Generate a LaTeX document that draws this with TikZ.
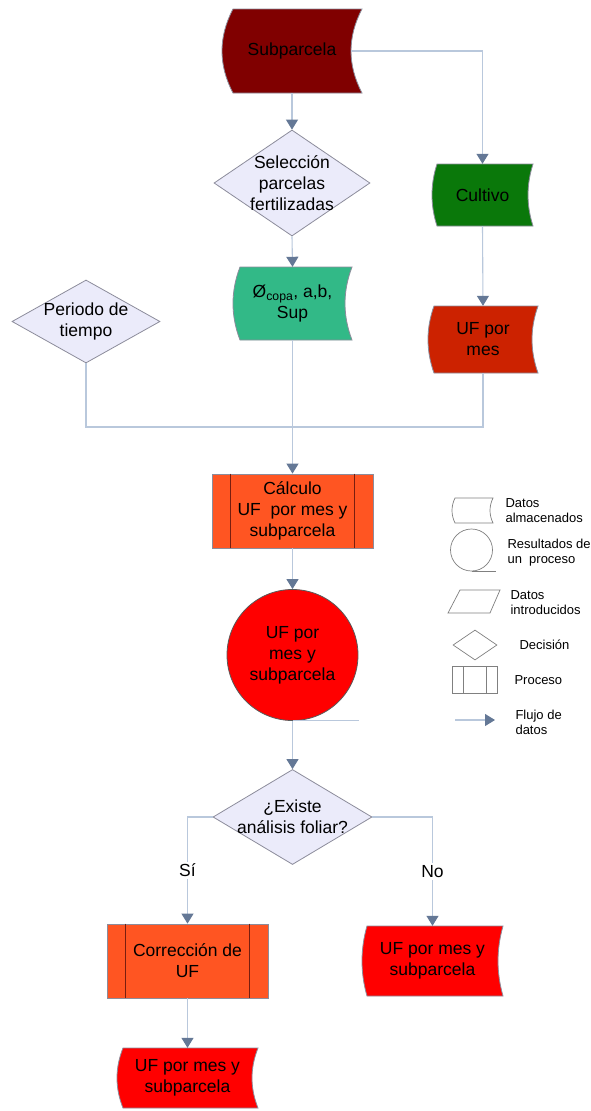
\documentclass[tikz,border=0pt]{standalone}
\usepackage{fontspec}
\setmainfont{Liberation Sans}
\usetikzlibrary{arrows.meta,shapes.geometric}

\definecolor{linec}{RGB}{185,200,220}
\definecolor{tipc}{RGB}{100,120,150}
\definecolor{shapeline}{RGB}{140,140,155}
\definecolor{decfill}{RGB}{235,235,250}
\definecolor{subfill}{RGB}{128,0,0}
\definecolor{datafill}{RGB}{50,185,135}
\definecolor{cultfill}{RGB}{10,120,10}
\definecolor{ufmfill}{RGB}{204,34,0}
\definecolor{procfill}{RGB}{255,85,34}
\definecolor{procin}{RGB}{120,30,15}
\definecolor{resfill}{RGB}{255,0,0}

% stored-data outline: convex left side, concave right side
% #1 cx, #2 cy, #3 width, #4 height, #5 bulge, #6 path options
\newcommand\storedpath[6]{%
  \path[#6] (#1-#3/2+#5,#2-#4/2) -- (#1+#3/2,#2-#4/2)
    .. controls (#1+#3/2-4*#5/3,#2-#4/6) and (#1+#3/2-4*#5/3,#2+#4/6) .. (#1+#3/2,#2+#4/2)
    -- (#1-#3/2+#5,#2+#4/2)
    .. controls (#1-#3/2-#5/3,#2+#4/6) and (#1-#3/2-#5/3,#2-#4/6) .. (#1-#3/2+#5,#2-#4/2)
    -- cycle;}

\tikzset{
  flow/.style={draw=linec, line width=1.1pt},
  arr/.style={flow, -{Triangle[width=12pt,length=10pt,color=tipc,fill=tipc]}},
  txt/.style={font=\fontsize{17.5}{21}\selectfont, align=center, text=black},
  legtxt/.style={font=\fontsize{13}{15}\selectfont, align=left, anchor=west, text=black},
  decision/.style={diamond, draw=shapeline, fill=decfill, line width=0.8pt, inner sep=0pt},
  storedbg/.style={draw=shapeline, line width=0.8pt},
  datatext/.style={txt, inner sep=0pt},
  process/.style={rectangle, draw=shapeline, fill=procfill, line width=0.8pt, txt, inner sep=0pt},
  procline/.style={draw=procin, line width=1pt},
  result/.style={circle, draw=black!65, fill=resfill, line width=0.8pt, txt, inner sep=0pt},
  legline/.style={draw=black!50, line width=0.7pt},
}

\begin{document}
\begin{tikzpicture}[x=1pt,y=-1pt]
\useasboundingbox (0,0) rectangle (590,1111);
\fill[white] (0,0) rectangle (590,1111);

% ---- stored-data shapes
\storedpath{292}{51}{140}{84}{11}{storedbg, fill=subfill}
\node[datatext, minimum width=140pt, minimum height=84pt] (sub) at (292,51) {Subparcela};

\storedpath{292.5}{303.5}{119}{73}{7}{storedbg, fill=datafill}
\node[datatext, minimum width=119pt, minimum height=73pt] (dat) at (292.5,303.5) {Ø\textsubscript{copa}, a,b,\\Sup};

\storedpath{482.5}{195}{101}{62}{5}{storedbg, fill=cultfill}
\node[datatext, minimum width=101pt, minimum height=62pt] (cul) at (482.5,195) {Cultivo};

\storedpath{483}{339.5}{110}{67}{6}{storedbg, fill=ufmfill}
\node[datatext, minimum width=110pt, minimum height=67pt] (ufm) at (483,339.5) {UF por\\mes};

\storedpath{432.5}{961}{141}{70}{5}{storedbg, fill=resfill}
\node[datatext, minimum width=141pt, minimum height=70pt] (ufr) at (432.5,961) {UF por mes y\\subparcela};

\storedpath{187.5}{1078}{141}{60}{6}{storedbg, fill=resfill}
\node[datatext, minimum width=141pt, minimum height=60pt] (ufl) at (187.5,1078) {UF por mes y\\subparcela};

% ---- decisions
\node[decision, minimum width=156pt, minimum height=106pt,
      label={[txt]center:Selección\\parcelas\\fertilizadas}] (sel) at (292,183) {};
\node[decision, minimum width=148pt, minimum height=83pt,
      label={[txt]center:Periodo de\\tiempo}] (per) at (86,321.5) {};
\node[decision, minimum width=159pt, minimum height=95pt,
      label={[txt]center:¿Existe\\análisis foliar?}] (ex) at (292.5,817) {};

% ---- processes
\node[process, minimum width=161pt, minimum height=74pt] (calc) at (292.5,511) {Cálculo\\UF~ por mes y\\subparcela};
\draw[procline] ([xshift=19pt]calc.north west) -- ([xshift=19pt]calc.south west);
\draw[procline] ([xshift=-19pt]calc.north east) -- ([xshift=-19pt]calc.south east);

\node[process, minimum width=161pt, minimum height=74pt] (corr) at (187.5,961) {Corrección de\\UF};
\draw[procline] ([xshift=19pt]corr.north west) -- ([xshift=19pt]corr.south west);
\draw[procline] ([xshift=-19pt]corr.north east) -- ([xshift=-19pt]corr.south east);

% ---- result of a process
\node[result, minimum size=131pt] (res) at (292.5,655) {UF por\\mes y\\subparcela};

% ---- connectors
\draw[arr] (sub.south) -- (sel.north);
\draw[arr] ([xshift=-11pt]sub.east) -| (cul.north);
\draw[arr] (sel.south) -- (dat.north);
\draw[arr] (cul.south) -- (ufm.north);
\coordinate (join) at (292.5,427);
\draw[flow] (per.south) |- (join) -| (ufm.south);
\draw[flow] (dat.south) -- (join);
\draw[arr] (join) -- (calc.north);
\draw[arr] (calc.south) -- (res.north);
\draw[flow] (res.south) -- ++(66,0);
\draw[arr] (res.south) -- (ex.north);
\draw[arr] (ex.west) -| (corr.north) node[pos=0.75, fill=white, txt, inner sep=2pt] {Sí};
\draw[arr] (ex.east) -| (ufr.north) node[pos=0.75, fill=white, txt, inner sep=2pt] {No};
\draw[arr] (corr.south) -- (ufl.north);

% ---- legend
\storedpath{472.5}{510.5}{41}{25}{3}{legline, fill=white}
\node[legtxt] (l1) at (502,511) {Datos\\almacenados};

\node[circle, legline, minimum size=42pt, inner sep=0pt] (lc) at (471.5,550) {};
\draw[legline] (lc.south) -- ++(24,0);
\node[legtxt] (l2) at (504,553) {Resultados de\\un~ proceso};

\draw[legline] (460,590) -- (500,590) -- (490,613) -- (448,613) -- cycle;
\node[legtxt] (l3) at (507,603) {Datos\\introducidos};

\node[diamond, legline, minimum width=44pt, minimum height=30pt, inner sep=0pt] (ld) at (475,645) {};
\node[legtxt] (l4) at (516,645) {Decisión};

\draw[legline] (452,666) rectangle (497,693);
\draw[legline] (463,666) -- (463,693);
\draw[legline] (486,666) -- (486,693);
\node[legtxt] (l5) at (511,680) {Proceso};

\coordinate (la1) at (455,720);
\coordinate (la2) at (495,720);
\draw[arr] (la1) -- (la2);
\node[legtxt] (l6) at (512,722) {Flujo de\\datos};
\end{tikzpicture}
\end{document}
